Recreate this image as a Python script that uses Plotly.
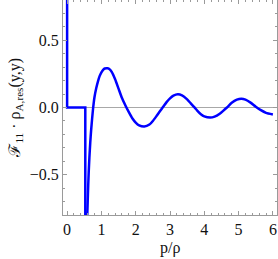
import plotly.graph_objects as go

# step part of the function
step_x = [0, 0, 0.53, 0.53]
step_y = [0.9, 0.0, 0.0, -0.9]

# oscillating part
curve_x = [0.575, 0.59, 0.6, 0.615, 0.63, 0.65, 0.675, 0.7, 0.73, 0.76, 0.8, 0.85, 0.9, 0.95, 1.0, 1.05, 1.1, 1.18,
           1.25, 1.3, 1.4, 1.5, 1.6, 1.7,
           1.8, 1.9, 2.0, 2.1, 2.25, 2.4, 2.5, 2.6, 2.7, 2.8, 2.9, 3.0, 3.1, 3.23, 3.35,
           3.5, 3.6, 3.7, 3.8, 3.9, 4.0, 4.17, 4.3, 4.45, 4.55, 4.66, 4.8, 4.95, 5.08,
           5.2, 5.35, 5.5, 5.65, 5.8, 6.0]
curve_y = [-0.9, -0.78, -0.7, -0.58, -0.48, -0.37, -0.26, -0.17, -0.08, 0.0, 0.08, 0.145, 0.195, 0.235, 0.262, 0.28, 0.29, 0.292,
           0.282, 0.265, 0.21, 0.14, 0.07, 0.015,
           -0.035, -0.08, -0.112, -0.133, -0.142, -0.127, -0.1, -0.066, -0.03, 0.005, 0.04, 0.068, 0.088, 0.098, 0.09,
           0.06, 0.032, 0.005, -0.025, -0.05, -0.066, -0.075, -0.068, -0.046, -0.025, 0.0, 0.035, 0.058, 0.065,
           0.058, 0.036, 0.006, -0.02, -0.04, -0.052]

x_ticks = [0, 1, 2, 3, 4, 5, 6]
y_ticks = [-0.5, 0.0, 0.5]
y_tick_labels = ["\u22120.5", "0.0", "0.5"]

blue = "#0000FF"
frame = "#9a9a9a"
font_family = "Liberation Serif, Times New Roman, serif"

fig = go.Figure()
fig.add_trace(go.Scatter(x=step_x, y=step_y, mode="lines",
                         line=dict(color=blue, width=2.5), hoverinfo="skip"))
fig.add_trace(go.Scatter(x=curve_x, y=curve_y, mode="lines",
                         line=dict(color=blue, width=2.5, shape="spline", smoothing=0.5),
                         hoverinfo="skip"))

axis_common = dict(
    showgrid=False, showline=True, linecolor=frame, linewidth=1, mirror="allticks",
    ticks="inside", ticklen=4, tickcolor=frame, tickwidth=1,
    tickfont=dict(family=font_family, size=16, color="#111"),
)

fig.update_xaxes(range=[-0.12, 6.12], tickvals=x_ticks, ticktext=[str(v) for v in x_ticks],
                 zeroline=False,
                 minor=dict(ticks="inside", ticklen=2, tickcolor=frame, dtick=0.2, tick0=0, showgrid=False),
                 **axis_common)
fig.update_yaxes(range=[-0.8, 0.8], tickvals=y_ticks, ticktext=y_tick_labels,
                 zeroline=True, zerolinecolor="#a8a8a8", zerolinewidth=1,
                 minor=dict(ticks="inside", ticklen=2, tickcolor=frame, dtick=0.1, tick0=0, showgrid=False),
                 **axis_common)

fig.add_annotation(text="\u2131<sub>11</sub> \u00b7 \u03c1<sub>A,res</sub>(y,y)",
                   xref="paper", yref="paper", x=-0.224, y=0.5,
                   xanchor="center", yanchor="middle", textangle=-90, showarrow=False,
                   font=dict(family=font_family, size=16, color="#111"))
fig.add_annotation(text="p/\u03c1", xref="paper", yref="paper", x=0.5, y=-0.153,
                   xanchor="center", yanchor="middle", showarrow=False,
                   font=dict(family=font_family, size=16, color="#111"))

fig.update_layout(width=278, height=259, margin=dict(l=63, r=1, t=0, b=44),
                  plot_bgcolor="white", paper_bgcolor="white", showlegend=False,
                  font=dict(family=font_family))

fig.write_html("out.html", config={"displayModeBar": False},
               post_script="document.body.style.margin='0';document.body.style.overflow='hidden';")
